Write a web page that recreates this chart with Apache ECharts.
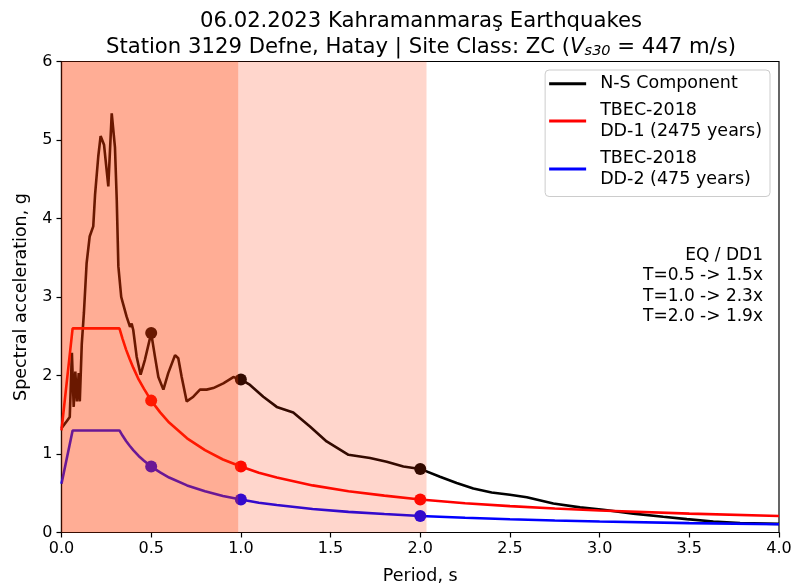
<!DOCTYPE html>
<html>
<head>
<meta charset="utf-8">
<script src="https://cdn.jsdelivr.net/npm/echarts@6/dist/echarts.min.js"></script>
<style>
html,body{margin:0;padding:0;background:#fff;}
#chart{width:792px;height:587px;}
</style>
</head>
<body>
<div id="chart"></div>
<script>
// ---- data ----
const nsPeriod = [0, 0.03, 0.046, 0.058, 0.068, 0.077, 0.086, 0.096, 0.102, 0.113, 0.125, 0.14, 0.157, 0.177, 0.187, 0.205, 0.218, 0.237, 0.261, 0.28, 0.298, 0.308, 0.317, 0.333, 0.345, 0.363, 0.382, 0.391, 0.4, 0.419, 0.441, 0.465, 0.5, 0.521, 0.54, 0.568, 0.595, 0.633, 0.651, 0.67, 0.698, 0.735, 0.772, 0.809, 0.846, 0.902, 0.958, 1.0, 1.051, 1.125, 1.2, 1.292, 1.385, 1.478, 1.6, 1.72, 1.813, 1.906, 2.0, 2.11, 2.203, 2.296, 2.398, 2.5, 2.594, 2.742, 2.891, 3.02, 3.188, 3.355, 3.486, 3.634, 3.783, 4.0];
const nsSa = [1.33, 1.42, 1.47, 2.29, 1.6, 2.05, 1.67, 2.03, 1.67, 2.4, 2.8, 3.43, 3.77, 3.9, 4.3, 4.79, 5.05, 4.94, 4.41, 5.34, 4.91, 4.24, 3.39, 3.0, 2.9, 2.75, 2.62, 2.66, 2.58, 2.24, 2.01, 2.2, 2.54, 2.24, 1.98, 1.82, 2.03, 2.26, 2.22, 1.98, 1.67, 1.73, 1.82, 1.82, 1.84, 1.9, 1.98, 1.95, 1.88, 1.73, 1.6, 1.53, 1.35, 1.16, 0.99, 0.95, 0.9, 0.84, 0.81, 0.71, 0.63, 0.56, 0.51, 0.48, 0.45, 0.37, 0.32, 0.29, 0.24, 0.2, 0.17, 0.14, 0.12, 0.11];

const ddPeriod = [0, 0.062, 0.323, 0.34, 0.36, 0.38, 0.4, 0.43, 0.46, 0.5, 0.55, 0.6, 0.7, 0.8, 0.9, 1.0, 1.1, 1.2, 1.4, 1.6, 1.8, 2.0, 2.25, 2.5, 2.75, 3.0, 3.5, 4.0];
const dd1Sa = [1.3, 2.6, 2.6, 2.47, 2.33, 2.21, 2.1, 1.95, 1.83, 1.68, 1.53, 1.4, 1.2, 1.05, 0.93, 0.84, 0.76, 0.7, 0.6, 0.525, 0.47, 0.42, 0.373, 0.336, 0.305, 0.28, 0.24, 0.21];
const dd2Sa = [0.62, 1.3, 1.3, 1.235, 1.165, 1.105, 1.05, 0.975, 0.915, 0.84, 0.765, 0.7, 0.6, 0.525, 0.465, 0.42, 0.38, 0.35, 0.3, 0.263, 0.235, 0.21, 0.187, 0.168, 0.153, 0.14, 0.12, 0.105];

const dotPeriod = [0.5, 1.0, 2.0];
const nsDots = [2.54, 1.95, 0.81];
const dd1Dots = [1.68, 0.84, 0.42];
const dd2Dots = [0.84, 0.42, 0.21];

const spanLight = [0, 2.035];
const spanDark = [0, 0.985];

const xTicks = [0, 0.5, 1.0, 1.5, 2.0, 2.5, 3.0, 3.5, 4.0];
const yTicks = [0, 1, 2, 3, 4, 5, 6];

const seriesNames = ['N-S Component', 'TBEC-2018\nDD-1 (2475 years)', 'TBEC-2018\nDD-2 (475 years)'];
const ratioLines = ['EQ / DD1', 'T=0.5 -> 1.5x', 'T=1.0 -> 2.3x', 'T=2.0 -> 1.9x'];
const titleLine1 = '06.02.2023 Kahramanmaraş Earthquakes';

// ---- build ----
const zip = (xs, ys) => xs.map((x, i) => [x, ys[i]]);
const FONT = 'DejaVu Sans';
const chart = echarts.init(document.getElementById('chart'), null, {renderer: 'canvas'});

const lineSeries = (name, xs, ys, color) => ({
  name: name, type: 'line', data: zip(xs, ys), showSymbol: false, symbol: 'none',
  lineStyle: {color: color, width: 2.6}, itemStyle: {color: color}, z: 2, animation: false
});
const dotSeries = (ys, color) => ({
  type: 'scatter', data: zip(dotPeriod, ys), symbol: 'circle', symbolSize: 12,
  itemStyle: {color: color, opacity: 1}, z: 3, animation: false, silent: true
});

const option = {
  backgroundColor: '#fff',
  animation: false,
  title: {
    text: titleLine1 + '\nStation 3129 Defne, Hatay | Site Class: ZC ({it|V}{sub|s30} = 447 m/s)',
    left: 416, top: 3, textAlign: 'center',
    textStyle: {
      fontFamily: FONT, fontSize: 21.2, fontWeight: 'normal', color: '#000', lineHeight: 26,
      rich: {
        it: {fontFamily: FONT, fontSize: 21.2, fontStyle: 'italic', color: '#000', lineHeight: 26},
        sub: {fontFamily: FONT, fontSize: 14.5, fontStyle: 'italic', color: '#000', lineHeight: 26, padding: [9, 0, 0, 0]}
      }
    }
  },
  grid: {left: 61.5, right: 13, top: 61.5, bottom: 54.5, outerBoundsMode: 'none', containLabel: false,
         show: true, borderColor: '#000', borderWidth: 1.2, backgroundColor: 'transparent'},
  legend: {
    data: seriesNames, orient: 'vertical', right: 22, top: 70, icon: 'rect',
    itemWidth: 37, itemHeight: 3, itemGap: 5,
    padding: [3, 8, 6, 4],
    backgroundColor: 'rgba(255,255,255,0.85)', borderColor: '#cccccc', borderWidth: 1, borderRadius: 4,
    textStyle: {fontFamily: FONT, fontSize: 17.5, color: '#000', lineHeight: 21.5, padding: [0, 0, 0, 9]}
  },
  xAxis: {
    type: 'value', min: xTicks[0], max: xTicks[xTicks.length - 1], interval: 0.5,
    name: 'Period, s', nameLocation: 'middle', nameGap: 35,
    nameTextStyle: {fontFamily: FONT, fontSize: 17.5, color: '#000'},
    axisLine: {show: true, lineStyle: {color: '#000', width: 1.2}},
    axisTick: {show: true, inside: false, length: 5, lineStyle: {color: '#000', width: 1.2}},
    axisLabel: {fontFamily: FONT, fontSize: 16, color: '#000', margin: 8, formatter: v => v.toFixed(1)},
    splitLine: {show: false}
  },
  yAxis: {
    type: 'value', min: yTicks[0], max: yTicks[yTicks.length - 1], interval: 1,
    name: 'Spectral acceleration, g', nameLocation: 'middle', nameGap: 31,
    nameTextStyle: {fontFamily: FONT, fontSize: 17.5, color: '#000'},
    axisLine: {show: true, lineStyle: {color: '#000', width: 1.2}},
    axisTick: {show: true, inside: false, length: 5, lineStyle: {color: '#000', width: 1.2}},
    axisLabel: {fontFamily: FONT, fontSize: 16, color: '#000', margin: 9, formatter: v => String(v)},
    splitLine: {show: false}
  },
  graphic: [{
    type: 'text', right: 29, top: 245, z: 20,
    style: {text: ratioLines.join('\n'), font: '17px "DejaVu Sans"', fill: '#000', lineHeight: 20.5, textAlign: 'right'}
  }],
  series: [
    lineSeries(seriesNames[0], nsPeriod, nsSa, '#000000'),
    lineSeries(seriesNames[1], ddPeriod, dd1Sa, '#ff0000'),
    lineSeries(seriesNames[2], ddPeriod, dd2Sa, '#0000ff'),
    dotSeries(nsDots, '#000000'),
    dotSeries(dd1Dots, '#ff0000'),
    dotSeries(dd2Dots, '#0000ff'),
    {
      type: 'line', data: [], z: 10, silent: true, animation: false,
      markArea: {
        silent: true, z: 10,
        data: [
          [{xAxis: spanLight[0], itemStyle: {color: 'rgba(255,50,0,0.2)'}}, {xAxis: spanLight[1]}],
          [{xAxis: spanDark[0], itemStyle: {color: 'rgba(255,62,0,0.27)'}}, {xAxis: spanDark[1]}]
        ]
      }
    }
  ]
};
chart.setOption(option);
</script>
</body>
</html>
